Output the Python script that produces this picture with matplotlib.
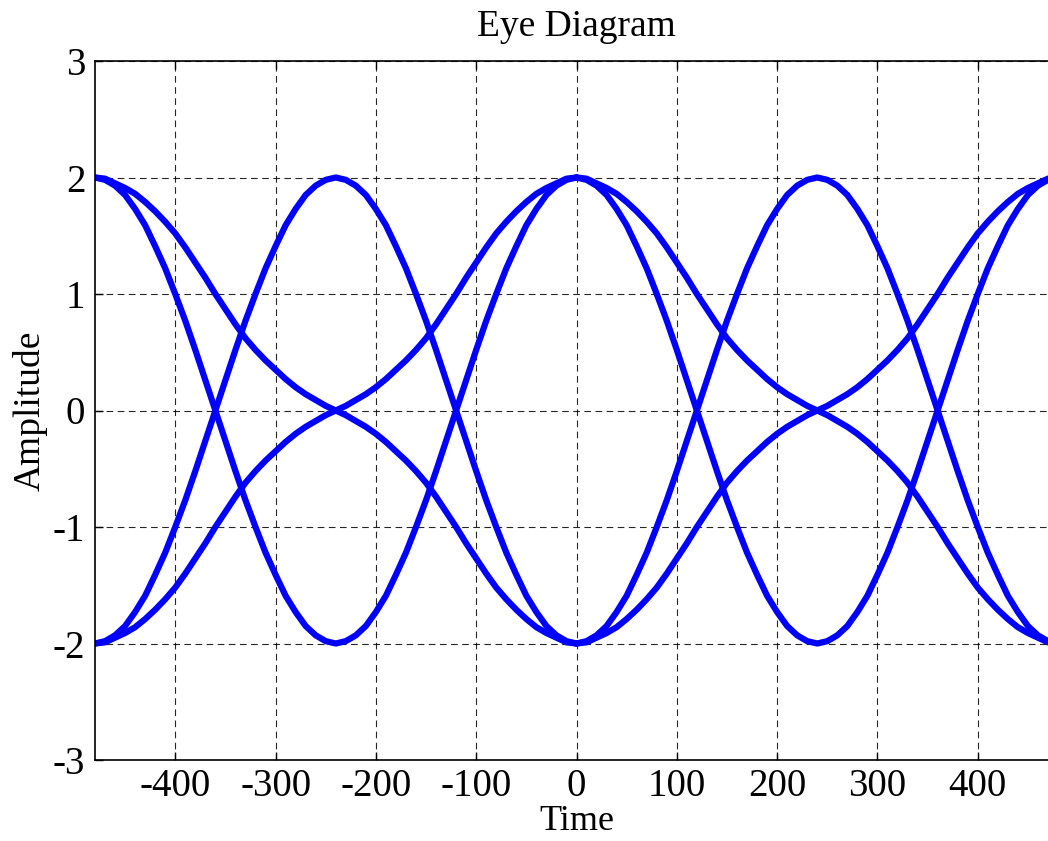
import matplotlib
matplotlib.use("Agg")
import matplotlib.pyplot as plt

plt.rcParams["font.family"] = ["Liberation Serif", "DejaVu Serif"]
plt.rcParams["axes.unicode_minus"] = False

# sample times for each symbol-pair window (left and right half of the eye)
t_left = [-480, -470, -460, -450, -440, -430, -420, -410, -400, -390, -380, -370,
          -360, -350, -340, -330, -320, -310, -300, -290, -280, -270, -260, -250,
          -240, -230, -220, -210, -200, -190, -180, -170, -160, -150, -140, -130,
          -120, -110, -100, -90, -80, -70, -60, -50, -40, -30, -20, -10, 0]
t_right = [0, 10, 20, 30, 40, 50, 60, 70, 80, 90, 100, 110,
           120, 130, 140, 150, 160, 170, 180, 190, 200, 210, 220, 230,
           240, 250, 260, 270, 280, 290, 300, 310, 320, 330, 340, 350,
           360, 370, 380, 390, 400, 410, 420, 430, 440, 450, 460, 470, 480]

# 2 -> -2 -> 2 (fast swing through the middle symbol)
steep_fall = [2.00, 1.98, 1.93, 1.85, 1.73, 1.59, 1.41, 1.22, 1.00, 0.77, 0.52, 0.26,
              0.00, -0.26, -0.52, -0.77, -1.00, -1.22, -1.41, -1.59, -1.73, -1.85, -1.93, -1.98,
              -2.00, -1.98, -1.93, -1.85, -1.73, -1.59, -1.41, -1.22, -1.00, -0.77, -0.52, -0.26,
              0.00, 0.26, 0.52, 0.77, 1.00, 1.22, 1.41, 1.59, 1.73, 1.85, 1.93, 1.98, 2.00]
# -2 -> 2 -> -2
steep_rise = [-2.00, -1.98, -1.93, -1.85, -1.73, -1.59, -1.41, -1.22, -1.00, -0.77, -0.52, -0.26,
              0.00, 0.26, 0.52, 0.77, 1.00, 1.22, 1.41, 1.59, 1.73, 1.85, 1.93, 1.98,
              2.00, 1.98, 1.93, 1.85, 1.73, 1.59, 1.41, 1.22, 1.00, 0.77, 0.52, 0.26,
              0.00, -0.26, -0.52, -0.77, -1.00, -1.22, -1.41, -1.59, -1.73, -1.85, -1.93, -1.98, -2.00]
# 2 -> 0 -> -2 (slow transition)
slow_fall = [2.00, 1.99, 1.95, 1.91, 1.86, 1.79, 1.71, 1.62, 1.52, 1.40, 1.27, 1.14,
             1.00, 0.87, 0.74, 0.62, 0.52, 0.43, 0.35, 0.27, 0.20, 0.14, 0.09, 0.04,
             0.00, -0.04, -0.09, -0.14, -0.20, -0.27, -0.35, -0.43, -0.52, -0.62, -0.74, -0.87,
             -1.00, -1.14, -1.27, -1.40, -1.52, -1.62, -1.71, -1.79, -1.86, -1.91, -1.95, -1.99, -2.00]
# -2 -> 0 -> 2
slow_rise = [-2.00, -1.99, -1.95, -1.91, -1.86, -1.79, -1.71, -1.62, -1.52, -1.40, -1.27, -1.14,
             -1.00, -0.87, -0.74, -0.62, -0.52, -0.43, -0.35, -0.27, -0.20, -0.14, -0.09, -0.04,
             0.00, 0.04, 0.09, 0.14, 0.20, 0.27, 0.35, 0.43, 0.52, 0.62, 0.74, 0.87,
             1.00, 1.14, 1.27, 1.40, 1.52, 1.62, 1.71, 1.79, 1.86, 1.91, 1.95, 1.99, 2.00]

traces = [steep_fall, steep_rise, slow_fall, slow_rise]

fig = plt.figure(figsize=(10.48, 8.41), dpi=100)
ax = fig.add_axes([95 / 1048, 1 - 760 / 841, 963 / 1048, 699 / 841])

for t in (t_left, t_right):
    for y in traces:
        ax.plot(t, y, color="#0000ff", lw=4.5, solid_joinstyle="round", solid_capstyle="round")

ax.set_xlim(-480, 480)
ax.set_ylim(-3, 3)
ax.set_xticks(range(-400, 401, 100))
ax.set_yticks(range(-3, 4))
ax.tick_params(direction="in", length=6, width=1, top=True, right=True, labelsize=28, pad=7)
ax.tick_params(axis="x", pad=6)
ax.grid(True, color="k", linestyle=(0, (6, 4)), lw=0.8, alpha=0.85)
for s in ax.spines.values():
    s.set_linewidth(1.2)

ax.set_title("Eye Diagram", fontsize=27, pad=18)
ax.set_xlabel("Time", fontsize=26, labelpad=0)
ax.set_ylabel("Amplitude", fontsize=27, labelpad=4)

fig.savefig("out.png", dpi=100)
